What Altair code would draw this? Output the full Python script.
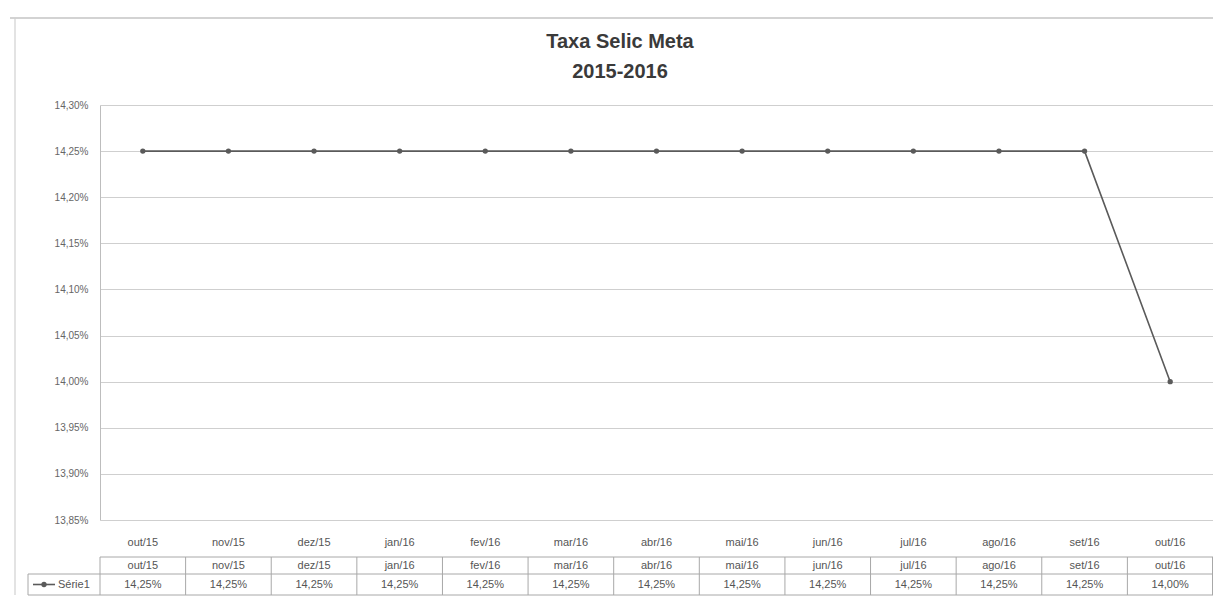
import altair as alt
import pandas as pd

meses = ["out/15", "nov/15", "dez/15", "jan/16", "fev/16", "mar/16", "abr/16",
         "mai/16", "jun/16", "jul/16", "ago/16", "set/16", "out/16"]
valores = [14.25, 14.25, 14.25, 14.25, 14.25, 14.25, 14.25,
           14.25, 14.25, 14.25, 14.25, 14.25, 14.00]
valores_txt = ["14,25%", "14,25%", "14,25%", "14,25%", "14,25%", "14,25%", "14,25%",
               "14,25%", "14,25%", "14,25%", "14,25%", "14,25%", "14,00%"]
y_ticks = [13.85, 13.90, 13.95, 14.00, 14.05, 14.10, 14.15, 14.20, 14.25, 14.30]
titulo = ["Taxa Selic Meta", "2015-2016"]
serie = "Série1"

df = pd.DataFrame({"mes": meses, "valor": valores, "txt": valores_txt})
one = pd.DataFrame({"a": [0]})

W, H = 1113, 415
FONT = "Liberation Sans"
TXT = "#555555"
GRID = "#cfcfcf"
LINE = "#5a5a5a"

xscale = alt.Scale(type="band", domain=meses, paddingInner=0, paddingOuter=0)
yscale = alt.Scale(domain=[13.85, 14.30], nice=False, zero=False)

xaxis = alt.Axis(title=None, ticks=False, domain=False, grid=False,
                 labelFont=FONT, labelFontSize=11, labelColor=TXT,
                 labelPadding=16, labelAngle=0)
yaxis = alt.Axis(title=None, values=y_ticks, ticks=False, domain=True,
                 domainColor="#bdbdbd", grid=True, gridColor=GRID,
                 labelFont=FONT, labelFontSize=10, labelColor="#666666",
                 labelPadding=12,
                 labelExpr="replace(format(datum.value, '.2f'), '.', ',') + '%'")

base = alt.Chart(df)

line = base.mark_line(color=LINE, strokeWidth=1.6).encode(
    x=alt.X("mes:N", scale=xscale, axis=xaxis, sort=meses, bandPosition=0.5),
    y=alt.Y("valor:Q", scale=yscale, axis=yaxis),
)
pts = base.mark_point(filled=True, color=LINE, size=28, opacity=1).encode(
    x=alt.X("mes:N", scale=xscale, sort=meses, bandPosition=0.5),
    y=alt.Y("valor:Q", scale=yscale),
)

# data table
row1 = base.mark_text(font=FONT, fontSize=11, color=TXT, baseline="middle").encode(
    x=alt.X("mes:N", scale=xscale, sort=meses, bandPosition=0.5),
    y=alt.value(460.5),
    text="mes:N",
)
row2 = base.mark_text(font=FONT, fontSize=11, color=TXT, baseline="middle").encode(
    x=alt.X("mes:N", scale=xscale, sort=meses, bandPosition=0.5),
    y=alt.value(479.5),
    text="txt:N",
)
seps = base.mark_rule(color="#a8a8a8", strokeWidth=1).encode(
    x=alt.X("mes:N", scale=xscale, sort=meses, bandPosition=0),
    y=alt.value(452), y2=alt.value(490),
)

def hrule(x1, x2, y, color="#a8a8a8", w=1):
    return alt.Chart(one).mark_rule(color=color, strokeWidth=w).encode(
        x=alt.value(x1), x2=alt.value(x2), y=alt.value(y))

def vrule(x, y1, y2, color="#a8a8a8", w=1):
    return alt.Chart(one).mark_rule(color=color, strokeWidth=w).encode(
        x=alt.value(x), y=alt.value(y1), y2=alt.value(y2))

deco = [
    hrule(0, W, 452), hrule(-72, W, 469), hrule(-72, W, 490),
    vrule(W - 0.5, 452, 490), vrule(-72, 469, 490),
    # chart frame
    hrule(-90, W, -87, color="#c4c4c4", w=1.5),
    vrule(-85, -87, 490, color="#d0d0d0", w=1.2),
    # legend key
    hrule(-67, -45, 479.5, color=LINE, w=1.6),
    alt.Chart(one).mark_point(filled=True, color=LINE, size=28, opacity=1).encode(
        x=alt.value(-56), y=alt.value(479.5)),
    alt.Chart(one).mark_text(font=FONT, fontSize=11, color=TXT, align="left",
                             baseline="middle", text=serie).encode(
        x=alt.value(-42), y=alt.value(479.5)),
    # title
    alt.Chart(one).mark_text(font=FONT, fontSize=20, fontWeight="bold", color="#3a3a3a",
                             align="center", baseline="middle", text=titulo[0]).encode(
        x=alt.value(520), y=alt.value(-63)),
    alt.Chart(one).mark_text(font=FONT, fontSize=20, fontWeight="bold", color="#3a3a3a",
                             align="center", baseline="middle", text=titulo[1]).encode(
        x=alt.value(520), y=alt.value(-33)),
]

chart = alt.layer(line, pts, row1, row2, seps, *deco).properties(
    width=W, height=H,
    autosize=alt.AutoSizeParams(type="none"),
    padding={"left": 92, "top": 97, "right": 0, "bottom": 76},
    background="white",
).configure_view(stroke=None)

chart.save("out.html", embed_options={"renderer": "svg", "actions": False})
